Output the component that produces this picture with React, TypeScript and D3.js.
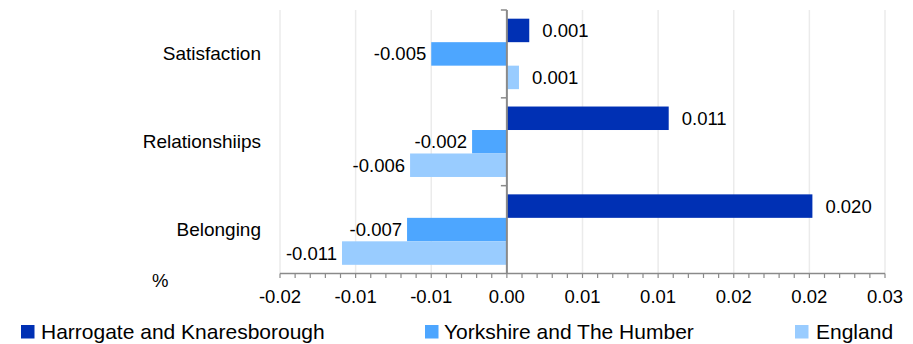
import React from "react";
import * as d3 from "d3";

const categories = ["Satisfaction", "Relationshiips", "Belonging"];
const seriesNames = ["Harrogate and Knaresborough", "Yorkshire and The Humber", "England"];
const harrogate = [0.00148, 0.0107, 0.0202];
const yorkshire = [-0.005, -0.0023, -0.0066];
const england = [0.0008, -0.0064, -0.0109];
const xTicks = [-0.015, -0.01, -0.005, 0, 0.005, 0.01, 0.015, 0.02, 0.025];
const xTickLabels = ["-0.02", "-0.01", "-0.01", "0.00", "0.01", "0.01", "0.02", "0.02", "0.03"];
const colors = ["#0030B4", "#4DA6FF", "#99CCFF"];
const unitLabel = "%";

const W = 913;
const H = 344;
const FONT = "'Liberation Sans', Arial, sans-serif";

export default function App() {
  const x = d3.scaleLinear().domain([-0.015, 0.025]).range([280, 885]);
  const y = d3.scaleBand<string>().domain(categories).range([10, 273.5]).padding(0);
  const inner = d3
    .scaleBand<string>()
    .domain(seriesNames)
    .range([0, y.bandwidth()])
    .paddingInner(0)
    .paddingOuter(0.37);
  const series = [harrogate, yorkshire, england];
  const x0 = x(0);
  const [yTop, yBot] = y.range();
  const minorTicks = d3.range(0, 41).map((i) => -0.015 + i * 0.001);
  const legendX = [21, 425, 795];
  const legendTextX = [41, 444, 816];

  return (
    <svg
      width={W}
      height={H}
      style={{ position: "absolute", left: 0, top: 0, background: "#fff" }}
      fontFamily={FONT}
    >
      {/* gridlines */}
      {xTicks.map((t, i) => (
        <line key={"g" + i} x1={x(t)} x2={x(t)} y1={yTop} y2={yBot} stroke="#ebebeb" strokeWidth={1.5} />
      ))}
      {/* bars */}
      {categories.map((c, ci) =>
        series.map((s, si) => {
          const v = s[ci];
          const bx = Math.min(x0, x(v));
          const bw = Math.abs(x(v) - x0);
          const by = (y(c) as number) + (inner(seriesNames[si]) as number);
          const bh = inner.bandwidth();
          const label = v.toFixed(3);
          const pos = v >= 0;
          return (
            <g key={c + si}>
              <rect x={bx} y={by} width={bw} height={bh} fill={colors[si]} />
              <text
                x={pos ? x(v) + 13 : x(v) - 5}
                y={by + bh / 2}
                textAnchor={pos ? "start" : "end"}
                dominantBaseline="central"
                fontSize={18.5}
                fill="#000"
              >
                {label}
              </text>
            </g>
          );
        })
      )}
      {/* zero axis */}
      <line x1={x0} x2={x0} y1={yTop} y2={yBot} stroke="#8a8a8a" strokeWidth={2} />
      {categories.map((c, i) => (
        <line key={"yt" + i} x1={x0 - 6} x2={x0} y1={y(c) as number} y2={y(c) as number} stroke="#8a8a8a" strokeWidth={1.5} />
      ))}
      {/* x axis */}
      <line x1={x(-0.015)} x2={x(0.025)} y1={yBot} y2={yBot} stroke="#8a8a8a" strokeWidth={1.5} />
      {minorTicks.map((t, i) => (
        <line key={"mt" + i} x1={x(t)} x2={x(t)} y1={yBot} y2={yBot + 4.5} stroke="#8a8a8a" strokeWidth={1.2} />
      ))}
      {xTicks.map((t, i) => (
        <text key={"xl" + i} x={x(t)} y={302.5} textAnchor="middle" fontSize={18.5} fill="#000">
          {xTickLabels[i]}
        </text>
      ))}
      {/* category labels */}
      {categories.map((c) => (
        <text
          key={"cl" + c}
          x={261}
          y={(y(c) as number) + y.bandwidth() / 2}
          textAnchor="end"
          dominantBaseline="central"
          fontSize={19}
          fill="#000"
        >
          {c}
        </text>
      ))}
      <text x={152} y={287} fontSize={18.5} fill="#000">
        {unitLabel}
      </text>
      {/* legend */}
      {seriesNames.map((n, i) => (
        <g key={"lg" + i}>
          <rect x={legendX[i]} y={325} width={13.5} height={13.5} fill={colors[i]} />
          <text x={legendTextX[i]} y={339} fontSize={21} fill="#000">
            {n}
          </text>
        </g>
      ))}
    </svg>
  );
}
